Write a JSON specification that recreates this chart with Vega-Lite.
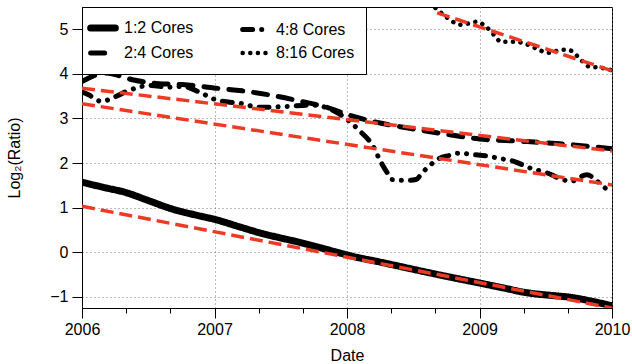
{
  "$schema": "https://vega.github.io/schema/vega-lite/v6.json",
  "width": 530,
  "height": 301,
  "autosize": "none",
  "padding": {"left": 82, "top": 7, "right": 20, "bottom": 56},
  "background": "white",
  "config": {
    "font": "Liberation Sans",
    "view": {"stroke": "black", "strokeWidth": 1},
    "axis": {
      "labelFontSize": 16,
      "titleFontSize": 16,
      "titleFontWeight": "normal",
      "labelColor": "black",
      "titleColor": "black",
      "domainColor": "black",
      "tickColor": "black",
      "gridColor": "#777777",
      "gridDash": [1, 3],
      "gridWidth": 1,
      "labelOverlap": false,
      "labelFlush": false
    }
  },
  "datasets": {
    "series": [
      {"series": "1:2 Cores", "year": 2006.0, "value": 1.57},
      {"series": "1:2 Cores", "year": 2006.17, "value": 1.45},
      {"series": "1:2 Cores", "year": 2006.33, "value": 1.34},
      {"series": "1:2 Cores", "year": 2006.5, "value": 1.16},
      {"series": "1:2 Cores", "year": 2006.68, "value": 0.97},
      {"series": "1:2 Cores", "year": 2006.85, "value": 0.84},
      {"series": "1:2 Cores", "year": 2007.01, "value": 0.73},
      {"series": "1:2 Cores", "year": 2007.2, "value": 0.56},
      {"series": "1:2 Cores", "year": 2007.36, "value": 0.42},
      {"series": "1:2 Cores", "year": 2007.5, "value": 0.32},
      {"series": "1:2 Cores", "year": 2007.66, "value": 0.21},
      {"series": "1:2 Cores", "year": 2007.85, "value": 0.06},
      {"series": "1:2 Cores", "year": 2008.04, "value": -0.09},
      {"series": "1:2 Cores", "year": 2008.25, "value": -0.22},
      {"series": "1:2 Cores", "year": 2008.45, "value": -0.35},
      {"series": "1:2 Cores", "year": 2008.7, "value": -0.51},
      {"series": "1:2 Cores", "year": 2009.0, "value": -0.69},
      {"series": "1:2 Cores", "year": 2009.18, "value": -0.8},
      {"series": "1:2 Cores", "year": 2009.36, "value": -0.91},
      {"series": "1:2 Cores", "year": 2009.55, "value": -0.97},
      {"series": "1:2 Cores", "year": 2009.71, "value": -1.02},
      {"series": "1:2 Cores", "year": 2009.85, "value": -1.1},
      {"series": "1:2 Cores", "year": 2010.0, "value": -1.2},
      {"series": "2:4 Cores", "year": 2006.0, "value": 3.83},
      {"series": "2:4 Cores", "year": 2006.18, "value": 4.02},
      {"series": "2:4 Cores", "year": 2006.38, "value": 3.87},
      {"series": "2:4 Cores", "year": 2006.58, "value": 3.78},
      {"series": "2:4 Cores", "year": 2006.76, "value": 3.76},
      {"series": "2:4 Cores", "year": 2007.01, "value": 3.68},
      {"series": "2:4 Cores", "year": 2007.21, "value": 3.62},
      {"series": "2:4 Cores", "year": 2007.41, "value": 3.53},
      {"series": "2:4 Cores", "year": 2007.66, "value": 3.38},
      {"series": "2:4 Cores", "year": 2007.86, "value": 3.24},
      {"series": "2:4 Cores", "year": 2008.01, "value": 3.08},
      {"series": "2:4 Cores", "year": 2008.2, "value": 2.93},
      {"series": "2:4 Cores", "year": 2008.45, "value": 2.79},
      {"series": "2:4 Cores", "year": 2008.7, "value": 2.67},
      {"series": "2:4 Cores", "year": 2009.0, "value": 2.54},
      {"series": "2:4 Cores", "year": 2009.31, "value": 2.49},
      {"series": "2:4 Cores", "year": 2009.58, "value": 2.44},
      {"series": "2:4 Cores", "year": 2010.0, "value": 2.32},
      {"series": "4:8 Cores", "year": 2006.0, "value": 3.6},
      {"series": "4:8 Cores", "year": 2006.05, "value": 3.53},
      {"series": "4:8 Cores", "year": 2006.15, "value": 3.38},
      {"series": "4:8 Cores", "year": 2006.23, "value": 3.46},
      {"series": "4:8 Cores", "year": 2006.34, "value": 3.61},
      {"series": "4:8 Cores", "year": 2006.51, "value": 3.74},
      {"series": "4:8 Cores", "year": 2006.66, "value": 3.7},
      {"series": "4:8 Cores", "year": 2006.76, "value": 3.72},
      {"series": "4:8 Cores", "year": 2006.9, "value": 3.57},
      {"series": "4:8 Cores", "year": 2007.01, "value": 3.42},
      {"series": "4:8 Cores", "year": 2007.21, "value": 3.33},
      {"series": "4:8 Cores", "year": 2007.34, "value": 3.25},
      {"series": "4:8 Cores", "year": 2007.54, "value": 3.27},
      {"series": "4:8 Cores", "year": 2007.74, "value": 3.3},
      {"series": "4:8 Cores", "year": 2007.88, "value": 3.2},
      {"series": "4:8 Cores", "year": 2008.0, "value": 2.98},
      {"series": "4:8 Cores", "year": 2008.1, "value": 2.71},
      {"series": "4:8 Cores", "year": 2008.19, "value": 2.41},
      {"series": "4:8 Cores", "year": 2008.26, "value": 2.0},
      {"series": "4:8 Cores", "year": 2008.3, "value": 1.8},
      {"series": "4:8 Cores", "year": 2008.34, "value": 1.63},
      {"series": "4:8 Cores", "year": 2008.45, "value": 1.61},
      {"series": "4:8 Cores", "year": 2008.52, "value": 1.63},
      {"series": "4:8 Cores", "year": 2008.57, "value": 1.79},
      {"series": "4:8 Cores", "year": 2008.63, "value": 1.96},
      {"series": "4:8 Cores", "year": 2008.7, "value": 2.11},
      {"series": "4:8 Cores", "year": 2008.77, "value": 2.17},
      {"series": "4:8 Cores", "year": 2008.83, "value": 2.22},
      {"series": "4:8 Cores", "year": 2008.96, "value": 2.19},
      {"series": "4:8 Cores", "year": 2009.08, "value": 2.15},
      {"series": "4:8 Cores", "year": 2009.14, "value": 2.11},
      {"series": "4:8 Cores", "year": 2009.26, "value": 2.04},
      {"series": "4:8 Cores", "year": 2009.38, "value": 1.89},
      {"series": "4:8 Cores", "year": 2009.51, "value": 1.78},
      {"series": "4:8 Cores", "year": 2009.61, "value": 1.65},
      {"series": "4:8 Cores", "year": 2009.69, "value": 1.59},
      {"series": "4:8 Cores", "year": 2009.81, "value": 1.74},
      {"series": "4:8 Cores", "year": 2009.89, "value": 1.59},
      {"series": "4:8 Cores", "year": 2009.96, "value": 1.42},
      {"series": "4:8 Cores", "year": 2010.0, "value": 1.38},
      {"series": "8:16 Cores", "year": 2008.667, "value": 5.48},
      {"series": "8:16 Cores", "year": 2008.76, "value": 5.25},
      {"series": "8:16 Cores", "year": 2008.81, "value": 5.15},
      {"series": "8:16 Cores", "year": 2008.87, "value": 5.1},
      {"series": "8:16 Cores", "year": 2008.93, "value": 5.14},
      {"series": "8:16 Cores", "year": 2008.98, "value": 5.17},
      {"series": "8:16 Cores", "year": 2009.04, "value": 5.08},
      {"series": "8:16 Cores", "year": 2009.12, "value": 4.84},
      {"series": "8:16 Cores", "year": 2009.16, "value": 4.72},
      {"series": "8:16 Cores", "year": 2009.28, "value": 4.72},
      {"series": "8:16 Cores", "year": 2009.33, "value": 4.69},
      {"series": "8:16 Cores", "year": 2009.45, "value": 4.54},
      {"series": "8:16 Cores", "year": 2009.51, "value": 4.47},
      {"series": "8:16 Cores", "year": 2009.63, "value": 4.54},
      {"series": "8:16 Cores", "year": 2009.68, "value": 4.53},
      {"series": "8:16 Cores", "year": 2009.77, "value": 4.3},
      {"series": "8:16 Cores", "year": 2009.82, "value": 4.17},
      {"series": "8:16 Cores", "year": 2009.93, "value": 4.13},
      {"series": "8:16 Cores", "year": 2010.0, "value": 4.08}
    ],
    "fits": [
      {"series": "1:2 Cores", "year": 2006.0, "value": 1.03},
      {"series": "1:2 Cores", "year": 2010.0, "value": -1.25},
      {"series": "2:4 Cores", "year": 2006.0, "value": 3.68},
      {"series": "2:4 Cores", "year": 2010.0, "value": 2.27},
      {"series": "4:8 Cores", "year": 2006.0, "value": 3.33},
      {"series": "4:8 Cores", "year": 2010.0, "value": 1.51},
      {"series": "8:16 Cores", "year": 2008.68, "value": 5.37},
      {"series": "8:16 Cores", "year": 2010.0, "value": 4.07}
    ]
  },
  "layer": [
    {
      "data": {"name": "series"},
      "mark": {"type": "line", "color": "black", "strokeCap": "round", "strokeJoin": "round", "interpolate": "monotone", "clip": true},
      "encoding": {
        "x": {
          "field": "year", "type": "quantitative",
          "scale": {"domain": [2006, 2010], "nice": false, "zero": false},
          "axis": {
            "title": "Date",
            "values": [2006, 2006.1667, 2006.3333, 2006.5, 2006.6667, 2006.8333, 2007, 2007.1667, 2007.3333, 2007.5, 2007.6667, 2007.8333, 2008, 2008.1667, 2008.3333, 2008.5, 2008.6667, 2008.8333, 2009, 2009.1667, 2009.3333, 2009.5, 2009.6667, 2009.8333, 2010],
            "labelExpr": "datum.value % 1 === 0 ? format(datum.value, 'd') : ''",
            "tickSize": {"condition": {"test": "datum.value % 1 === 0", "value": 10}, "value": 5},
            "gridOpacity": {"condition": {"test": "datum.value % 1 === 0", "value": 1}, "value": 0},
            "labelPadding": 3,
            "titlePadding": 10
          }
        },
        "y": {
          "field": "value", "type": "quantitative",
          "scale": {"domain": [-1.25, 5.5], "nice": false, "zero": false},
          "axis": {
            "title": "Log₂(Ratio)",
            "values": [-1, -0.5, 0, 0.5, 1, 1.5, 2, 2.5, 3, 3.5, 4, 4.5, 5, 5.5],
            "labelExpr": "datum.value % 1 === 0 ? format(datum.value, 'd') : ''",
            "tickSize": {"condition": {"test": "datum.value % 1 === 0", "value": 10}, "value": 5},
            "gridOpacity": {"condition": {"test": "datum.value % 1 === 0", "value": 1}, "value": 0},
            "labelPadding": 4,
            "titlePadding": 27
          }
        },
        "strokeDash": {
          "field": "series", "type": "nominal",
          "scale": {"domain": ["1:2 Cores", "2:4 Cores", "4:8 Cores", "8:16 Cores"], "range": [[1, 0], [14, 11], [10, 9, 0.1, 9, 0.1, 9], [0.1, 7.5]]},
          "legend": {
            "title": null, "orient": "top-left", "offset": 0, "columns": 2,
            "padding": 11, "strokeColor": "black", "fillColor": "white",
            "symbolType": "M-1.9,0H1.9", "symbolSize": 169, "symbolStrokeColor": "black",
            "symbolFillColor": "transparent",
            "labelFontSize": 16, "labelColor": "black", "labelOffset": 11,
            "columnPadding": 38, "rowPadding": 1,
            "encode": {"symbols": {"update": {"strokeCap": {"value": "round"}}}}
          }
        },
        "strokeWidth": {
          "field": "series", "type": "nominal",
          "scale": {"type": "ordinal", "domain": ["1:2 Cores", "2:4 Cores", "4:8 Cores", "8:16 Cores"], "range": [7, 5, 5, 4.5]},
          "legend": {
            "title": null, "orient": "top-left", "offset": 0, "columns": 2,
            "padding": 11, "strokeColor": "black", "fillColor": "white",
            "symbolType": "M-1.9,0H1.9", "symbolSize": 169, "symbolStrokeColor": "black",
            "symbolFillColor": "transparent",
            "labelFontSize": 16, "labelColor": "black", "labelOffset": 11,
            "columnPadding": 38, "rowPadding": 1,
            "encode": {"symbols": {"update": {"strokeCap": {"value": "round"}}}}
          }
        }
      }
    },
    {
      "data": {"name": "fits"},
      "mark": {"type": "line", "color": "#ec3a25", "strokeDash": [13, 6], "strokeWidth": 3.5, "clip": true},
      "encoding": {
        "x": {"field": "year", "type": "quantitative"},
        "y": {"field": "value", "type": "quantitative"},
        "detail": {"field": "series", "type": "nominal"}
      }
    }
  ]
}
